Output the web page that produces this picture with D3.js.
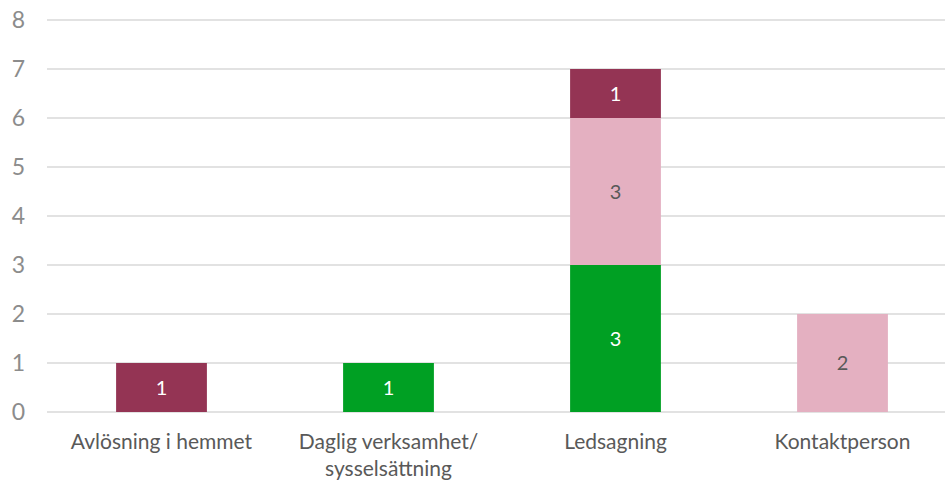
<!DOCTYPE html>
<html>
<head>
<meta charset="utf-8">
<script src="https://cdn.jsdelivr.net/npm/d3@7"></script>
<style>
  body { margin: 0; background: #fff; }
  svg { display: block; font-family: Lato, "Open Sans", sans-serif; }
</style>
</head>
<body>
<svg id="chart" width="945" height="482"></svg>
<script>
// categories and series (stack order bottom -> top)
const categories = ['Avlösning i hemmet', 'Daglig verksamhet/\nsysselsättning', 'Ledsagning', 'Kontaktperson'];
const seriesNames = ['green', 'pink', 'darkred'];
const greenValues = [0, 1, 3, 0];
const pinkValues = [0, 0, 3, 2];
const darkredValues = [1, 0, 1, 0];
const yTicks = [0, 1, 2, 3, 4, 5, 6, 7, 8];

const colors = { green: '#00a023', pink: '#e4b0c1', darkred: '#943454' };
const labelColors = { green: '#ffffff', pink: '#595959', darkred: '#ffffff' };

const rows = categories.map((c, i) => ({
    category: c,
    green: greenValues[i],
    pink: pinkValues[i],
    darkred: darkredValues[i]
}));

const svg = d3.select('#chart');
const x = d3.scaleBand().domain(categories).range([48, 956]).paddingInner(0.6).paddingOuter(0.3);
const y = d3.scaleLinear().domain([0, 8]).range([412, 20]);

// gridlines
svg.append('g')
    .selectAll('line')
    .data(yTicks)
    .join('line')
    .attr('x1', 47).attr('x2', 945)
    .attr('y1', d => y(d)).attr('y2', d => y(d))
    .attr('stroke', '#d9d9d9')
    .attr('stroke-width', 1.3);

// y tick labels
svg.append('g')
    .selectAll('text')
    .data(yTicks)
    .join('text')
    .attr('x', 25).attr('y', d => y(d))
    .attr('dy', '0.36em')
    .attr('text-anchor', 'end')
    .attr('fill', '#8c8c8c')
    .style('font-size', '23px')
    .text(d => d);

const stacked = d3.stack().keys(seriesNames)(rows);

const layers = svg.append('g')
    .selectAll('g')
    .data(stacked)
    .join('g')
    .attr('fill', s => colors[s.key]);

layers.selectAll('rect')
    .data(s => s.map(d => Object.assign({ key: s.key }, d)).filter(d => d[1] - d[0] > 0))
    .join('rect')
    .attr('x', d => x(d.data.category))
    .attr('width', x.bandwidth())
    .attr('y', d => y(d[1]))
    .attr('height', d => y(d[0]) - y(d[1]));

layers.selectAll('text')
    .data(s => s.map(d => Object.assign({ key: s.key }, d)).filter(d => d[1] - d[0] > 0))
    .join('text')
    .attr('x', d => x(d.data.category) + x.bandwidth() / 2)
    .attr('y', d => y((d[0] + d[1]) / 2))
    .attr('dy', '0.36em')
    .attr('text-anchor', 'middle')
    .attr('fill', d => labelColors[d.key])
    .style('font-size', '20px')
    .text(d => d[1] - d[0]);

// category labels
const catLabels = svg.append('g')
    .selectAll('text')
    .data(categories)
    .join('text')
    .attr('x', d => x(d) + x.bandwidth() / 2)
    .attr('y', 449)
    .attr('text-anchor', 'middle')
    .attr('fill', '#595959')
    .style('font-size', '21px');

catLabels.selectAll('tspan')
    .data(d => d.split('\n').map((t, i) => ({ t, i })))
    .join('tspan')
    .attr('x', function () { return d3.select(this.parentNode).attr('x'); })
    .attr('dy', d => d.i === 0 ? 0 : 27)
    .text(d => d.t);
</script>
</body>
</html>
